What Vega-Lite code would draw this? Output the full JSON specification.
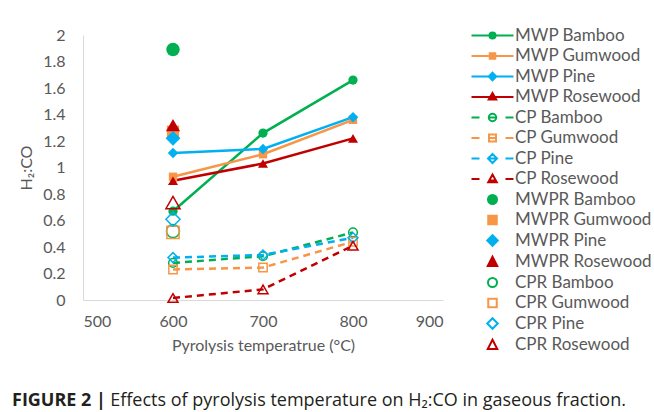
{
  "$schema": "https://vega.github.io/schema/vega-lite/v6.json",
  "width": 360,
  "height": 265,
  "autosize": {"type": "none"},
  "padding": {"left": 83, "top": 35, "right": 211, "bottom": 112},
  "background": "white",
  "config": {
    "view": {"stroke": null},
    "font": "Lato",
    "axis": {"grid": false, "ticks": false, "tickSize": 0, "domainColor": "#D9D9D9", "domainWidth": 1, "labelColor": "#595959", "labelFont": "Lato", "labelFontSize": 16, "titleColor": "#595959", "titleFont": "Lato", "titleFontSize": 16, "titleFontWeight": "normal"}
  },
  "title": {
    "text": "FIGURE 2 |",
    "subtitle": "\u200b\u00a0\u00a0\u00a0\u00a0\u00a0\u00a0\u00a0\u00a0\u00a0\u00a0\u00a0\u00a0\u00a0\u00a0\u00a0\u00a0\u00a0\u00a0\u00a0\u00a0\u00a0Effects of pyrolysis temperature on H\u2082:CO in gaseous fraction.",
    "orient": "bottom",
    "anchor": "start",
    "frame": "group",
    "dx": -71,
    "offset": 39,
    "font": "Open Sans",
    "fontSize": 18,
    "fontWeight": "bold",
    "color": "#231F20",
    "subtitleFont": "Open Sans",
    "subtitleFontSize": 18,
    "subtitleColor": "#231F20",
    "subtitlePadding": -18
  },
  "data": {
    "values": [
      {"series": "MWP Bamboo", "type": "MWP", "temperature": 600, "H2CO": 0.67},
      {"series": "MWP Bamboo", "type": "MWP", "temperature": 700, "H2CO": 1.26},
      {"series": "MWP Bamboo", "type": "MWP", "temperature": 800, "H2CO": 1.66},
      {"series": "MWP Gumwood", "type": "MWP", "temperature": 600, "H2CO": 0.93},
      {"series": "MWP Gumwood", "type": "MWP", "temperature": 700, "H2CO": 1.10},
      {"series": "MWP Gumwood", "type": "MWP", "temperature": 800, "H2CO": 1.36},
      {"series": "MWP Pine", "type": "MWP", "temperature": 600, "H2CO": 1.11},
      {"series": "MWP Pine", "type": "MWP", "temperature": 700, "H2CO": 1.14},
      {"series": "MWP Pine", "type": "MWP", "temperature": 800, "H2CO": 1.38},
      {"series": "MWP Rosewood", "type": "MWP", "temperature": 600, "H2CO": 0.90},
      {"series": "MWP Rosewood", "type": "MWP", "temperature": 700, "H2CO": 1.03},
      {"series": "MWP Rosewood", "type": "MWP", "temperature": 800, "H2CO": 1.22},
      {"series": "CP Bamboo", "type": "CP", "temperature": 600, "H2CO": 0.28},
      {"series": "CP Bamboo", "type": "CP", "temperature": 700, "H2CO": 0.33},
      {"series": "CP Bamboo", "type": "CP", "temperature": 800, "H2CO": 0.51},
      {"series": "CP Gumwood", "type": "CP", "temperature": 600, "H2CO": 0.23},
      {"series": "CP Gumwood", "type": "CP", "temperature": 700, "H2CO": 0.245},
      {"series": "CP Gumwood", "type": "CP", "temperature": 800, "H2CO": 0.44},
      {"series": "CP Pine", "type": "CP", "temperature": 600, "H2CO": 0.32},
      {"series": "CP Pine", "type": "CP", "temperature": 700, "H2CO": 0.34},
      {"series": "CP Pine", "type": "CP", "temperature": 800, "H2CO": 0.47},
      {"series": "CP Rosewood", "type": "CP", "temperature": 600, "H2CO": 0.015},
      {"series": "CP Rosewood", "type": "CP", "temperature": 700, "H2CO": 0.08},
      {"series": "CP Rosewood", "type": "CP", "temperature": 800, "H2CO": 0.41},
      {"series": "MWPR Bamboo", "type": "MWPR", "temperature": 600, "H2CO": 1.89},
      {"series": "MWPR Gumwood", "type": "MWPR", "temperature": 600, "H2CO": 1.27},
      {"series": "MWPR Pine", "type": "MWPR", "temperature": 600, "H2CO": 1.22},
      {"series": "MWPR Rosewood", "type": "MWPR", "temperature": 600, "H2CO": 1.32},
      {"series": "CPR Bamboo", "type": "CPR", "temperature": 600, "H2CO": 0.52},
      {"series": "CPR Gumwood", "type": "CPR", "temperature": 600, "H2CO": 0.51},
      {"series": "CPR Pine", "type": "CPR", "temperature": 600, "H2CO": 0.61},
      {"series": "CPR Rosewood", "type": "CPR", "temperature": 600, "H2CO": 0.735}
    ]
  },
  "encoding": {
    "x": {"field": "temperature", "type": "quantitative", "title": "Pyrolysis temperatrue (°C)",
      "scale": {"domain": [500, 900], "nice": false, "zero": false},
      "axis": {"values": [500, 600, 700, 800, 900], "labelPadding": 13, "titlePadding": 8}},
    "y": {"field": "H2CO", "type": "quantitative", "title": "H\u2082:CO",
      "scale": {"domain": [0, 2], "nice": false},
      "axis": {"values": [0, 0.2, 0.4, 0.6, 0.8, 1, 1.2, 1.4, 1.6, 1.8, 2], "format": "~g", "labelPadding": 18, "titlePadding": 8}},
    "color": {"field": "series", "type": "nominal", "legend": null,
      "scale": {
        "domain": ["MWP Bamboo", "MWP Gumwood", "MWP Pine", "MWP Rosewood", "CP Bamboo", "CP Gumwood", "CP Pine", "CP Rosewood", "MWPR Bamboo", "MWPR Gumwood", "MWPR Pine", "MWPR Rosewood", "CPR Bamboo", "CPR Gumwood", "CPR Pine", "CPR Rosewood"],
        "range": ["#00B050", "#F79646", "#00B0F0", "#C00000", "#00B050", "#F79646", "#00B0F0", "#C00000", "#00B050", "#F79646", "#00B0F0", "#C00000", "#00B050", "#F79646", "#00B0F0", "#C00000"]
      }
    }
  },
  "layer": [
    {
      "transform": [{"filter": "datum.temperature === 600"}],
      "mark": {"type": "point", "opacity": 0},
      "encoding": {
        "shape": {"field": "series", "type": "nominal",
          "scale": {
            "domain": ["MWP Bamboo", "MWP Gumwood", "MWP Pine", "MWP Rosewood", "CP Bamboo", "CP Gumwood", "CP Pine", "CP Rosewood", "MWPR Bamboo", "MWPR Gumwood", "MWPR Pine", "MWPR Rosewood", "CPR Bamboo", "CPR Gumwood", "CPR Pine", "CPR Rosewood"],
            "range": [
              "M-4.2,0H4.2M-0.6,0A0.6,0.6,0,1,0,0.6,0A0.6,0.6,0,1,0,-0.6,0Z",
              "M-4.2,0H4.2M-0.55,-0.55H0.55V0.55H-0.55Z",
              "M-4.2,0H4.2M0,-0.75L0.75,0L0,0.75L-0.75,0Z",
              "M-4.2,0H4.2M0,-0.8L0.75,0.5L-0.75,0.5Z",
              "M-4.2,0H-2.6M2.6,0H4.2M-0.75,0H0.75M-0.75,0A0.75,0.75,0,1,0,0.75,0A0.75,0.75,0,1,0,-0.75,0Z",
              "M-4.2,0H-2.6M2.6,0H4.2M-0.7,0H0.7M-0.7,-0.7H0.7V0.7H-0.7Z",
              "M-4.2,0H-2.6M2.6,0H4.2M-0.9,0H0.9M0,-0.9L0.9,0L0,0.9L-0.9,0Z",
              "M-4.2,0H-2.6M2.6,0H4.2M-0.6,0.3H0.6M0,-0.9L0.85,0.65L-0.85,0.65Z",
              "M-0.9,0A0.9,0.9,0,1,0,0.9,0A0.9,0.9,0,1,0,-0.9,0Z",
              "M-0.85,-0.85H0.85V0.85H-0.85Z",
              "M0,-1.05L1.05,0L0,1.05L-1.05,0Z",
              "M0,-1.05L0.95,0.8L-0.95,0.8Z",
              "M-0.9,0A0.9,0.9,0,1,0,0.9,0A0.9,0.9,0,1,0,-0.9,0Z",
              "M-0.85,-0.85H0.85V0.85H-0.85Z",
              "M0,-1.05L1.05,0L0,1.05L-1.05,0Z",
              "M0,-1.05L0.95,0.8L-0.95,0.8Z"
            ]
          },
          "legend": {"title": null, "orient": "none", "legendX": 401, "legendY": -8, "symbolSize": 100, "symbolStrokeWidth": 2, "symbolOpacity": 1, "labelFont": "Lato", "labelFontSize": 17, "labelColor": "#595959", "labelOffset": 14, "rowPadding": 2.5}
        },
        "fill": {"field": "series", "type": "nominal",
          "scale": {
            "domain": ["MWP Bamboo", "MWP Gumwood", "MWP Pine", "MWP Rosewood", "CP Bamboo", "CP Gumwood", "CP Pine", "CP Rosewood", "MWPR Bamboo", "MWPR Gumwood", "MWPR Pine", "MWPR Rosewood", "CPR Bamboo", "CPR Gumwood", "CPR Pine", "CPR Rosewood"],
            "range": ["#00B050", "#F79646", "#00B0F0", "#C00000", "transparent", "transparent", "transparent", "transparent", "#00B050", "#F79646", "#00B0F0", "#C00000", "transparent", "transparent", "transparent", "transparent"]
          },
          "legend": {"title": null, "orient": "none", "legendX": 401, "legendY": -8, "symbolSize": 100, "symbolStrokeWidth": 2, "symbolOpacity": 1, "labelFont": "Lato", "labelFontSize": 17, "labelColor": "#595959", "labelOffset": 14, "rowPadding": 2.5}
        },
        "stroke": {"field": "series", "type": "nominal",
          "scale": {
            "domain": ["MWP Bamboo", "MWP Gumwood", "MWP Pine", "MWP Rosewood", "CP Bamboo", "CP Gumwood", "CP Pine", "CP Rosewood", "MWPR Bamboo", "MWPR Gumwood", "MWPR Pine", "MWPR Rosewood", "CPR Bamboo", "CPR Gumwood", "CPR Pine", "CPR Rosewood"],
            "range": ["#00B050", "#F79646", "#00B0F0", "#C00000", "#00B050", "#F79646", "#00B0F0", "#C00000", "#00B050", "#F79646", "#00B0F0", "#C00000", "#00B050", "#F79646", "#00B0F0", "#C00000"]
          },
          "legend": {"title": null, "orient": "none", "legendX": 401, "legendY": -8, "symbolSize": 100, "symbolStrokeWidth": 2, "symbolOpacity": 1, "labelFont": "Lato", "labelFontSize": 17, "labelColor": "#595959", "labelOffset": 14, "rowPadding": 2.5}
        }
      }
    },
    {
      "transform": [{"filter": "datum.type === 'MWP'"}],
      "mark": {"type": "line", "strokeWidth": 2.5},
      "encoding": {"detail": {"field": "series", "type": "nominal"}}
    },
    {
      "transform": [{"filter": "datum.type === 'CP'"}],
      "mark": {"type": "line", "strokeWidth": 2.5, "strokeDash": [7, 5]},
      "encoding": {"detail": {"field": "series", "type": "nominal"}}
    },
    {"transform": [{"filter": "datum.series === 'MWP Bamboo'"}], "mark": {"type": "point", "shape": "circle", "filled": true, "size": 85, "opacity": 1}, "encoding": {}},
    {"transform": [{"filter": "datum.series === 'MWP Gumwood'"}], "mark": {"type": "point", "shape": "square", "filled": true, "size": 70, "opacity": 1}, "encoding": {}},
    {"transform": [{"filter": "datum.series === 'MWP Pine'"}], "mark": {"type": "point", "shape": "diamond", "filled": true, "size": 110, "opacity": 1}, "encoding": {}},
    {"transform": [{"filter": "datum.series === 'MWP Rosewood'"}], "mark": {"type": "point", "shape": "triangle-up", "filled": true, "size": 100, "opacity": 1}, "encoding": {}},
    {"transform": [{"filter": "datum.series === 'CP Bamboo'"}], "mark": {"type": "point", "shape": "circle", "filled": false, "size": 75, "strokeWidth": 1.5, "opacity": 1}, "encoding": {}},
    {"transform": [{"filter": "datum.series === 'CP Gumwood'"}], "mark": {"type": "point", "shape": "square", "filled": false, "size": 70, "strokeWidth": 1.5, "opacity": 1}, "encoding": {}},
    {"transform": [{"filter": "datum.series === 'CP Pine'"}], "mark": {"type": "point", "shape": "diamond", "filled": false, "size": 100, "strokeWidth": 1.5, "opacity": 1}, "encoding": {}},
    {"transform": [{"filter": "datum.series === 'CP Rosewood'"}], "mark": {"type": "point", "shape": "triangle-up", "filled": false, "size": 100, "strokeWidth": 1.5, "opacity": 1}, "encoding": {}},
    {"transform": [{"filter": "datum.series === 'MWPR Bamboo'"}], "mark": {"type": "point", "shape": "circle", "filled": true, "size": 180, "opacity": 1}, "encoding": {}},
    {"transform": [{"filter": "datum.series === 'MWPR Gumwood'"}], "mark": {"type": "point", "shape": "square", "filled": true, "size": 150, "opacity": 1}, "encoding": {}},
    {"transform": [{"filter": "datum.series === 'MWPR Pine'"}], "mark": {"type": "point", "shape": "diamond", "filled": true, "size": 220, "opacity": 1}, "encoding": {}},
    {"transform": [{"filter": "datum.series === 'MWPR Rosewood'"}], "mark": {"type": "point", "shape": "triangle-up", "filled": true, "size": 200, "opacity": 1}, "encoding": {}},
    {"transform": [{"filter": "datum.series === 'CPR Bamboo'"}], "mark": {"type": "point", "shape": "circle", "filled": false, "size": 170, "strokeWidth": 1.5, "opacity": 1}, "encoding": {}},
    {"transform": [{"filter": "datum.series === 'CPR Gumwood'"}], "mark": {"type": "point", "shape": "square", "filled": false, "size": 150, "strokeWidth": 1.5, "opacity": 1}, "encoding": {}},
    {"transform": [{"filter": "datum.series === 'CPR Pine'"}], "mark": {"type": "point", "shape": "diamond", "filled": false, "size": 200, "strokeWidth": 1.5, "opacity": 1}, "encoding": {}},
    {"transform": [{"filter": "datum.series === 'CPR Rosewood'"}], "mark": {"type": "point", "shape": "triangle-up", "filled": false, "size": 200, "strokeWidth": 1.5, "opacity": 1}, "encoding": {}}
  ]
}
